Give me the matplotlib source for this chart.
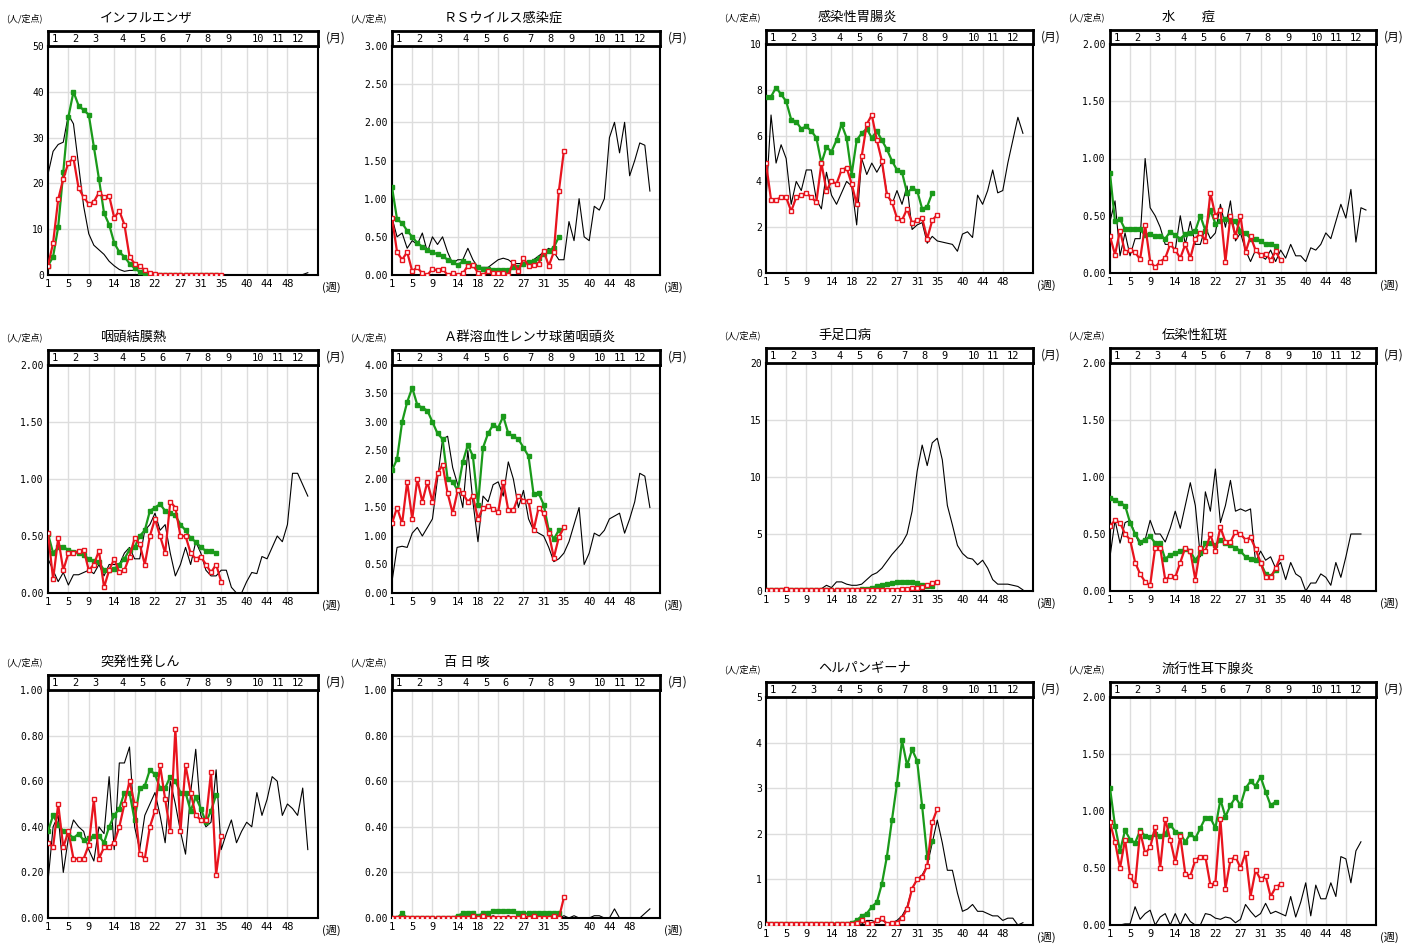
import matplotlib
matplotlib.use("Agg")
import matplotlib.pyplot as plt
import numpy as np

plt.rcParams['font.family'] = ['Noto Sans CJK JP', 'DejaVu Sans']

titles = ["インフルエンザ", "ＲＳウイルス感染症", "感染性胃腸炎", "水　　痘",
          "咽頭結膜熱", "Ａ群溶血性レンサ球菌咽頭炎", "手足口病", "伝染性紅斑",
          "突発性発しん", "百 日 咳", "ヘルパンギーナ", "流行性耳下腺炎"]
week_ticks = [1, 5, 9, 14, 18, 22, 27, 31, 35, 40, 44, 48]
month_labels = ["1", "2", "3", "4", "5", "6", "7", "8", "9", "10", "11", "12"]
month_pos = [2.3, 6.4, 10.4, 15.6, 19.6, 23.5, 28.4, 32.4, 36.5, 42.2, 46.1, 50.0]

# ---- data: black = previous year (52 wk), red = this year (35 wk), green = 5-yr avg (34 wk)
flu_k = [22,27,28.5,29,35,33,24,15,9,6.5,5.5,4.5,3,2,1.2,0.8,1,1,1,0.5,0.3] + [0.1]*30 + [0.5]
flu_r = [2,7,16.5,21,24.5,25.5,19,17,15.5,16,18,17,17.3,12.5,14,11,4,2.5,2,1,0.5,0.3] + [0.1]*13
flu_g = [2,4,10.5,22.5,34.5,40,37,36,35,28,21,13.5,11,7,5,4,2.5,1.5,0.7,0.3,0.1,0.05] + [0]*12

rs_k = [0.75,0.5,0.55,0.35,0.45,0.4,0.55,0.3,0.5,0.4,0.5,0.3,0.15,0.2,0.2,0.35,0.2,0.1,0.1,0.1,
        0.15,0.2,0.22,0.2,0.15,0.15,0.15,0.15,0.2,0.25,0.3,0.35,0.3,0.2,0.2,0.7,0.45,1.0,0.5,0.45,
        0.9,0.85,1.0,1.8,2.0,1.6,2.0,1.3,1.5,1.73,1.7,1.1]
rs_r = [0.75,0.3,0.2,0.3,0.05,0.1,0.02,0.0,0.08,0.06,0.08,0.0,0.02,0.0,0.02,0.12,0.13,0.03,0.0,0.05,
        0.02,0.03,0.03,0.0,0.17,0.05,0.22,0.12,0.13,0.15,0.32,0.12,0.3,1.1,1.63]
rs_g = [1.15,0.73,0.68,0.58,0.5,0.42,0.37,0.33,0.3,0.27,0.25,0.2,0.17,0.13,0.18,0.16,0.13,0.1,0.08,0.08,
        0.07,0.07,0.07,0.07,0.1,0.1,0.15,0.17,0.18,0.22,0.28,0.32,0.36,0.5]

ge_k = [3.2,6.9,4.8,5.6,5.0,3.0,4.0,3.6,4.5,4.5,3.2,2.8,4.4,3.4,3.0,3.5,4.0,3.8,2.1,5.0,
        4.3,4.8,4.4,4.8,3.5,3.0,3.6,3.0,3.8,1.9,2.1,2.2,1.3,1.6,1.4,1.35,1.3,1.25,0.95,1.7,
        1.8,1.55,3.4,3.0,3.6,4.5,3.5,3.6,4.8,5.8,6.8,6.1]
ge_r = [4.8,3.2,3.2,3.3,3.3,2.7,3.3,3.4,3.5,3.3,3.1,4.8,3.6,4.0,3.9,4.5,4.6,3.9,3.0,5.1,
        6.5,6.9,5.8,4.9,3.4,3.1,2.4,2.3,2.8,2.2,2.3,2.4,1.5,2.3,2.55]
ge_g = [7.7,7.7,8.1,7.8,7.5,6.7,6.6,6.3,6.4,6.2,5.9,4.8,5.5,5.3,5.8,6.5,5.9,4.3,5.8,6.1,
        6.3,5.9,6.2,5.8,5.4,4.9,4.5,4.4,3.5,3.7,3.6,2.8,2.9,3.5]

vz_k = [0.45,0.63,0.15,0.35,0.15,0.3,0.3,1.0,0.57,0.5,0.4,0.25,0.25,0.2,0.5,0.25,0.45,0.25,0.25,0.4,
        0.3,0.35,0.6,0.4,0.63,0.28,0.35,0.2,0.1,0.2,0.15,0.12,0.2,0.1,0.2,0.13,0.25,0.15,0.15,0.1,
        0.22,0.2,0.25,0.35,0.3,0.45,0.6,0.48,0.73,0.27,0.57,0.55]
vz_r = [0.32,0.16,0.37,0.18,0.2,0.18,0.12,0.42,0.1,0.05,0.1,0.13,0.25,0.2,0.13,0.25,0.13,0.3,0.35,0.28,
        0.7,0.5,0.55,0.1,0.5,0.32,0.5,0.18,0.32,0.2,0.16,0.17,0.11,0.19,0.11]
vz_g = [0.87,0.45,0.47,0.38,0.38,0.38,0.38,0.33,0.34,0.32,0.32,0.3,0.36,0.33,0.3,0.34,0.35,0.37,0.5,0.37,
        0.55,0.43,0.45,0.47,0.45,0.45,0.37,0.35,0.3,0.3,0.28,0.25,0.25,0.24]

pc_k = [0.3,0.2,0.1,0.18,0.07,0.16,0.16,0.18,0.2,0.17,0.25,0.15,0.25,0.25,0.25,0.35,0.4,0.3,0.3,0.55,
        0.6,0.7,0.55,0.6,0.35,0.15,0.25,0.4,0.25,0.45,0.35,0.2,0.15,0.15,0.2,0.2,0.05,0.0,0.0,0.1,
        0.18,0.17,0.32,0.3,0.4,0.5,0.45,0.6,1.05,1.05,0.95,0.85]
pc_r = [0.53,0.12,0.48,0.2,0.35,0.35,0.37,0.38,0.2,0.25,0.37,0.05,0.2,0.3,0.18,0.2,0.32,0.48,0.43,0.25,
        0.5,0.65,0.5,0.35,0.8,0.75,0.5,0.5,0.35,0.3,0.32,0.25,0.18,0.25,0.1]
pc_g = [0.52,0.35,0.4,0.4,0.38,0.36,0.35,0.33,0.3,0.28,0.27,0.2,0.2,0.21,0.25,0.3,0.38,0.4,0.5,0.55,
        0.72,0.75,0.78,0.72,0.7,0.68,0.6,0.55,0.48,0.45,0.4,0.37,0.37,0.35]

gas_k = [0.2,0.8,0.82,0.8,1.05,1.15,1.0,1.15,1.3,2.0,2.7,2.75,2.2,1.9,1.5,2.5,1.6,0.9,1.7,1.6,
         1.9,1.95,1.7,2.3,2.0,1.5,1.8,1.3,1.1,1.05,1.0,0.8,0.55,0.6,0.7,0.9,1.2,1.5,0.5,0.7,
         1.05,1.0,1.1,1.3,1.35,1.4,1.05,1.3,1.6,2.1,2.05,1.5]
gas_r = [1.22,1.5,1.22,1.95,1.3,2.0,1.6,1.95,1.6,2.1,2.25,1.75,1.4,1.8,1.75,1.6,1.7,1.3,1.5,1.52,
         1.48,1.42,1.95,1.45,1.45,1.7,1.62,1.62,1.1,1.5,1.4,1.05,0.62,0.98,1.15]
gas_g = [2.15,2.35,3.0,3.35,3.6,3.3,3.25,3.2,3.0,2.8,2.7,2.0,1.95,1.8,2.3,2.6,2.4,1.55,2.55,2.8,
         2.95,2.9,3.1,2.8,2.75,2.7,2.55,2.4,1.73,1.75,1.55,1.1,0.95,1.1]

hfm_k = [0.1]*11 + [0.2,0.5,0.3,0.8,0.8,0.6,0.5,0.5,0.6,1.0,1.4,1.6,2.0,2.6,3.2,3.7,4.2,5.0,7.0,
         10.5,12.8,11.0,13.0,13.4,11.5,7.5,5.8,4.0,3.3,2.9,2.8,2.3,2.7,2.0,1.0,0.6,0.6,0.6,0.5,0.4,0.1]
hfm_r = [0.05,0.05,0.1,0.05,0.15,0.1,0.05,0.05,0.05,0.05,0.05,0.05,0.05,0.05,0.05,0.05,0.05,0.05,0.05,0.05,
         0.05,0.05,0.1,0.1,0.1,0.1,0.1,0.15,0.2,0.25,0.3,0.35,0.5,0.7,0.8]
hfm_g = [0.05]*19 + [0.15,0.2,0.3,0.4,0.5,0.6,0.7,0.75,0.8,0.8,0.75,0.7,0.5,0.4,0.45]

er_k = [0.3,0.62,0.42,0.6,0.62,0.5,0.4,0.45,0.62,0.5,0.5,0.43,0.55,0.7,0.55,0.75,0.95,0.75,0.3,0.87,
        0.7,1.07,0.6,0.75,0.97,0.7,0.72,0.7,0.72,0.25,0.35,0.27,0.3,0.2,0.25,0.1,0.25,0.15,0.12,0.0,
        0.07,0.07,0.15,0.12,0.05,0.25,0.12,0.3,0.5,0.5,0.5]
er_r = [0.57,0.62,0.6,0.5,0.45,0.25,0.15,0.08,0.05,0.38,0.38,0.1,0.13,0.12,0.25,0.38,0.35,0.1,0.38,0.35,
        0.5,0.35,0.56,0.43,0.43,0.52,0.5,0.45,0.47,0.37,0.25,0.12,0.12,0.2,0.3]
er_g = [0.82,0.8,0.77,0.75,0.6,0.5,0.43,0.45,0.48,0.42,0.42,0.28,0.32,0.33,0.35,0.37,0.35,0.27,0.33,0.42,
        0.42,0.4,0.45,0.42,0.4,0.38,0.35,0.3,0.28,0.27,0.25,0.15,0.13,0.18]

es_k = [0.16,0.4,0.45,0.2,0.35,0.43,0.4,0.38,0.3,0.25,0.4,0.37,0.62,0.3,0.68,0.68,0.75,0.4,0.3,0.45,
        0.5,0.55,0.45,0.33,0.6,0.5,0.38,0.28,0.55,0.74,0.45,0.4,0.42,0.65,0.3,0.37,0.43,0.33,0.38,0.42,
        0.4,0.55,0.45,0.52,0.62,0.6,0.45,0.5,0.48,0.45,0.57,0.3]
es_r = [0.33,0.31,0.5,0.31,0.38,0.26,0.26,0.26,0.32,0.52,0.26,0.31,0.31,0.33,0.4,0.5,0.6,0.5,0.28,0.26,
        0.4,0.47,0.67,0.52,0.38,0.83,0.38,0.67,0.55,0.45,0.43,0.43,0.64,0.19,0.36]
es_g = [0.38,0.45,0.41,0.38,0.37,0.35,0.37,0.34,0.35,0.36,0.36,0.33,0.4,0.45,0.48,0.55,0.55,0.43,0.57,0.58,
        0.65,0.63,0.57,0.57,0.62,0.6,0.55,0.55,0.47,0.53,0.48,0.42,0.47,0.54]

pt_k = [0.0]*20 + [0.01,0.0,0.0,0.01,0.0,0.0,0.0,0.01,0.0,0.0,0.0,0.0,0.0,0.0,0.01,0.0,0.01,0.0,0.0,0.0,
        0.01,0.01,0.0,0.0,0.04,0.0,0.0,0.0,0.0,0.0,0.02,0.04]
pt_r = [0.0]*16 + [0.01,0.0,0.01,0.0,0.0,0.0,0.0,0.0,0.0,0.0,0.01,0.0,0.01,0.0,0.0,0.0,0.01,0.0,0.09]
pt_g = [0.0,0.0,0.02,0.0,0.0,0.0,0.0,0.0,0.0,0.0,0.0,0.0,0.0,0.01,0.02,0.02,0.02,0.01,0.02,0.02,
        0.03,0.03,0.03,0.03,0.03,0.02,0.02,0.02,0.02,0.02,0.02,0.02,0.02,0.02]

hp_k = [0.02]*20 + [0.1,0.1,0.05,0.1,0.05,0.05,0.1,0.2,0.4,0.8,1.0,1.1,1.3,1.8,2.3,1.8,1.2,1.2,0.7,0.3,
        0.35,0.45,0.3,0.3,0.25,0.2,0.2,0.1,0.15,0.15,0.0,0.05]
hp_r = [0.02]*18 + [0.05,0.1,0.05,0.02,0.1,0.15,0.02,0.05,0.05,0.15,0.35,0.8,1.0,1.05,1.3,2.25,2.55]
hp_g = [0.03]*17 + [0.05,0.1,0.2,0.25,0.4,0.5,0.9,1.5,2.3,3.1,4.05,3.5,3.85,3.6,2.6,1.5,1.85]

mu_k = [0.0,0.0,0.0,0.01,0.01,0.16,0.05,0.1,0.13,0.0,0.07,0.1,0.0,0.1,0.0,0.1,0.03,0.0,0.0,0.1,
        0.09,0.06,0.05,0.07,0.06,0.02,0.05,0.18,0.12,0.07,0.1,0.19,0.1,0.12,0.1,0.08,0.25,0.07,0.2,0.37,
        0.08,0.35,0.23,0.23,0.37,0.25,0.6,0.58,0.37,0.65,0.73]
mu_r = [0.9,0.73,0.5,0.75,0.43,0.35,0.82,0.63,0.68,0.86,0.5,0.93,0.75,0.55,0.78,0.45,0.43,0.57,0.6,0.6,
        0.35,0.37,0.93,0.32,0.57,0.6,0.5,0.63,0.25,0.48,0.4,0.43,0.25,0.33,0.36]
mu_g = [1.2,0.87,0.65,0.83,0.75,0.72,0.83,0.78,0.77,0.8,0.78,0.8,0.88,0.82,0.8,0.73,0.8,0.76,0.85,0.94,
        0.94,0.85,1.1,0.95,1.05,1.12,1.05,1.2,1.26,1.22,1.3,1.17,1.05,1.08]

series = [(flu_k, flu_r, flu_g), (rs_k, rs_r, rs_g), (ge_k, ge_r, ge_g), (vz_k, vz_r, vz_g),
          (pc_k, pc_r, pc_g), (gas_k, gas_r, gas_g), (hfm_k, hfm_r, hfm_g), (er_k, er_r, er_g),
          (es_k, es_r, es_g), (pt_k, pt_r, pt_g), (hp_k, hp_r, hp_g), (mu_k, mu_r, mu_g)]
ymax = [50, 3, 10, 2, 2, 4, 20, 2, 1, 1, 5, 2]
ystep = [10, 0.5, 2, 0.5, 0.5, 0.5, 5, 0.5, 0.2, 0.2, 1, 0.5]
yfmt = ["{:.0f}", "{:.2f}", "{:.0f}", "{:.2f}", "{:.2f}", "{:.2f}", "{:.0f}", "{:.2f}",
        "{:.2f}", "{:.2f}", "{:.0f}", "{:.2f}"]

W, H = 1424, 948
fig = plt.figure(figsize=(W/100, H/100), dpi=100)
cols = [(48, 318), (392, 660), (766, 1033), (1110, 1376)]
rows_left = [(31, 46, 275), (350, 365, 593), (675, 690, 918)]
rows_right = [(30, 44, 273), (348, 363, 591), (682, 697, 925)]
GREEN = "#1a9a1a"
RED = "#e8141e"

for i in range(12):
    r, c = divmod(i, 4)
    l, rt = cols[c]
    st, pt, bt = (rows_left if c < 2 else rows_right)[r]
    ax = fig.add_axes([l/W, 1-bt/H, (rt-l)/W, (bt-pt)/H])
    sx = fig.add_axes([l/W, 1-pt/H, (rt-l)/W, (pt-st)/H])
    k, rd, g = series[i]
    ax.plot(np.arange(1, len(k)+1), k, color="black", lw=0.8, zorder=3)
    ax.plot(np.arange(1, len(g)+1), g, color=GREEN, lw=1.6, marker="s", ms=2.5,
            mfc=GREEN, mec=GREEN, zorder=4)
    ax.plot(np.arange(1, len(rd)+1), rd, color=RED, lw=1.6, marker="s", ms=3.5,
            mfc="white", mec=RED, mew=1.0, zorder=5)
    ax.set_xlim(1, 54)
    ax.set_ylim(0, ymax[i])
    yt = np.arange(0, ymax[i] + ystep[i]/2, ystep[i])
    ax.set_yticks(yt)
    ax.set_yticklabels([yfmt[i].format(v) for v in yt], fontsize=7, family="DejaVu Sans Mono")
    ax.set_xticks(week_ticks)
    ax.set_xticklabels([str(w) for w in week_ticks], fontsize=7.5, family="DejaVu Sans Mono")
    ax.grid(True, color="#dddddd", lw=1.0, zorder=0)
    ax.tick_params(length=0, pad=3)
    for s in ax.spines.values():
        s.set_linewidth(1.5)
    ax.text(1.015, -0.055, "(週)", transform=ax.transAxes, fontsize=8, va="center", ha="left")

    sx.set_xlim(1, 54)
    sx.set_ylim(0, 1)
    sx.set_xticks([]); sx.set_yticks([])
    for s in sx.spines.values():
        s.set_linewidth(2)
    for m, p in zip(month_labels, month_pos):
        sx.text(p, 0.45, m, fontsize=7.5, ha="center", va="center", family="DejaVu Sans Mono")
    sx.text(1.03, 0.5, "(月)", transform=sx.transAxes, fontsize=8.5, va="center", ha="left")

    fig.text((l-42)/W, 1-(st-13)/H, "(人/定点)", fontsize=6.5, va="center", ha="left")
    fig.text((l+52)/W, 1-(st-13)/H, titles[i], fontsize=9.5, va="center", ha="left")

fig.savefig("out.png", dpi=100)
